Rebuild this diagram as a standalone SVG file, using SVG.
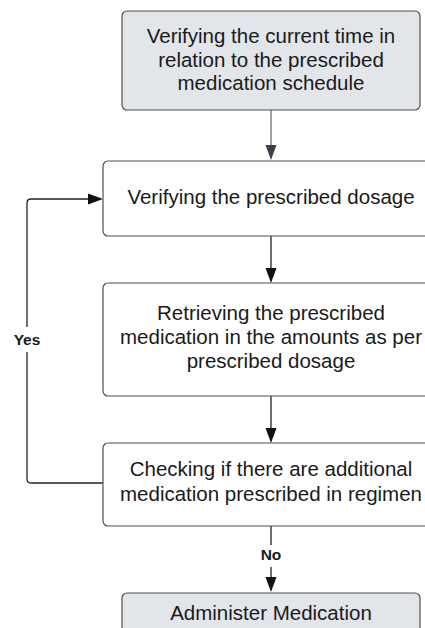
<svg xmlns="http://www.w3.org/2000/svg" width="425" height="628" viewBox="0 0 425 628">
<style>
.box{stroke:#4f4f4f;stroke-width:1.2;}
.grey{fill:#e2e5e9;}
.white{fill:#ffffff;}
.t{font-family:"Liberation Sans",Arial,sans-serif;font-size:20.5px;fill:#1a1a1a;text-anchor:middle;}
.lbl{font-family:"Liberation Sans",Arial,sans-serif;font-size:15.5px;font-weight:bold;fill:#1a1a1a;text-anchor:middle;}
.c{fill:none;stroke:#222;stroke-width:1.3;}
</style>
<rect width="425" height="628" fill="#ffffff"/>
<g id="connectors">
<line class="c" x1="271" y1="110" x2="271" y2="145" style="stroke:#6a6e75"/>
<path d="M265.5,145 L276.5,145 L271,160 Z" fill="#3b414b"/>
<line class="c" x1="271" y1="236" x2="271" y2="268"/>
<path d="M265.5,268 L276.5,268 L271,283 Z" fill="#111"/>
<line class="c" x1="271" y1="396" x2="271" y2="428"/>
<path d="M265.5,428 L276.5,428 L271,443 Z" fill="#111"/>
<path class="c" d="M103,483 L31,483 Q27,483 27,479 L27,352 M27,327 L27,203 Q27,199 31,199 L88,199"/>
<path d="M88,193.5 L103,199 L88,204.5 Z" fill="#111"/>
<text class="lbl" x="27" y="345">Yes</text>
<path class="c" d="M271,526 L271,545 M271,567 L271,577"/>
<path d="M265.5,577 L276.5,577 L271,592 Z" fill="#111"/>
<text class="lbl" x="271" y="560">No</text>
</g>
<g id="node1">
<rect class="box grey" x="122" y="11" width="298" height="99" rx="5"/>
<text class="t" x="271" y="43">Verifying the current time in</text>
<text class="t" x="271" y="67">relation to the prescribed</text>
<text class="t" x="271" y="90">medication schedule</text>
</g>
<g id="node2">
<rect class="box white" x="103" y="161" width="336" height="75" rx="5"/>
<text class="t" x="271" y="204">Verifying the prescribed dosage</text>
</g>
<g id="node3">
<rect class="box white" x="103" y="283" width="336" height="113" rx="5"/>
<text class="t" x="271" y="320">Retrieving the prescribed</text>
<text class="t" x="271" y="344">medication in the amounts as per</text>
<text class="t" x="271" y="368">prescribed dosage</text>
</g>
<g id="node4">
<rect class="box white" x="103" y="443" width="336" height="83" rx="5"/>
<text class="t" x="271" y="476">Checking if there are additional</text>
<text class="t" x="271" y="501">medication prescribed in regimen</text>
</g>
<g id="node5">
<rect class="box grey" x="122" y="593" width="298" height="50" rx="5"/>
<text class="t" x="271" y="620">Administer Medication</text>
</g>
</svg>
